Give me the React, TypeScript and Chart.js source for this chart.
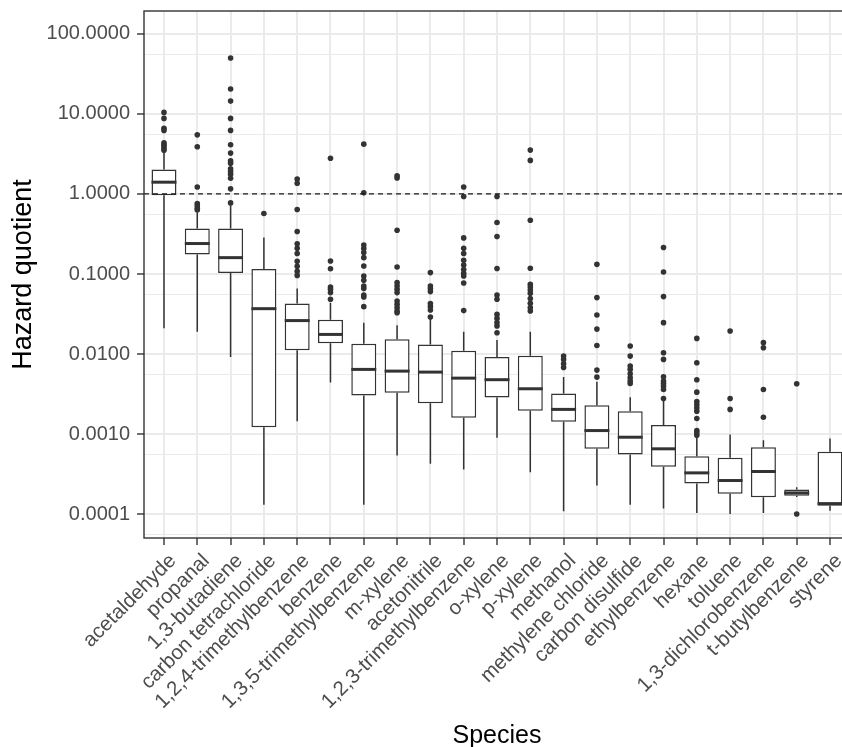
import React, { useEffect, useRef } from 'react';
import { Chart, registerables } from 'chart.js';

Chart.register(...registerables);

// ---------- data ----------
const species = [
  'acetaldehyde', 'propanal', '1,3-butadiene', 'carbon tetrachloride',
  '1,2,4-trimethylbenzene', 'benzene', '1,3,5-trimethylbenzene', 'm-xylene',
  'acetonitrile', '1,2,3-trimethylbenzene', 'o-xylene', 'p-xylene', 'methanol',
  'methylene chloride', 'carbon disulfide', 'ethylbenzene', 'hexane', 'toluene',
  '1,3-dichlorobenzene', 't-butylbenzene', 'styrene',
];

const lowerWhisker = [
  0.021, 0.019, 0.00917, 0.000132, 0.00145, 0.00443, 0.000132, 0.000542,
  0.000427, 0.000362, 0.0009, 0.000335, 0.000109, 0.000229, 0.000132, 0.000118,
  0.000104, 0.000101, 0.000104, 0.000165, 0.000111,
];
const q1 = [
  0.96, 0.175, 0.103, 0.00122, 0.0112, 0.0137, 0.00305, 0.00329,
  0.00244, 0.0016, 0.00288, 0.00196, 0.00143, 0.000657, 0.000557, 0.000391,
  0.000242, 0.000181, 0.000163, 0.000171, 0.000128,
];
const median = [
  1.4, 0.24, 0.16, 0.0369, 0.0262, 0.0176, 0.00644, 0.00613,
  0.00596, 0.00501, 0.00479, 0.00369, 0.00204, 0.00111, 0.000917, 0.000657,
  0.000329, 0.000264, 0.000342, 0.000185, 0.000136,
];
const q3 = [
  2.02, 0.369, 0.369, 0.1155, 0.0427, 0.0269, 0.0135, 0.0153,
  0.0132, 0.011, 0.00917, 0.00955, 0.00323, 0.00229, 0.00194, 0.0013,
  0.000531, 0.000507, 0.000688, 0.000204, 0.000603,
];
const upperWhisker = [
  3.3, 0.585, 0.71, 0.285, 0.0657, 0.0439, 0.0247, 0.0229,
  0.0272, 0.019, 0.015, 0.019, 0.00516, 0.00452, 0.0029, 0.00259,
  0.000928, 0.000991, 0.000841, 0.000218, 0.000884,
];
const outliers: number[][] = [
  [10.4, 8.76, 6.6, 6.2, 4.34, 4.1, 3.95, 3.7, 3.5],
  [5.46, 3.87, 1.22, 0.76, 0.71, 0.66, 0.63],
  [49.7, 20.4, 14.4, 8.76, 6.2, 4.1, 3.23, 2.58, 2.42, 2.05, 1.9, 1.76, 1.57, 1.155, 0.772],
  [0.569],
  [1.53, 1.36, 0.638, 0.339, 0.238, 0.21, 0.18, 0.144, 0.125, 0.108, 0.096],
  [2.79, 0.145, 0.116, 0.0688, 0.0645, 0.0586, 0.0483],
  [4.18, 1.03, 0.23, 0.208, 0.185, 0.16, 0.126, 0.0944, 0.0834, 0.0708, 0.0657, 0.0546, 0.0516, 0.0391],
  [1.68, 1.58, 0.351, 0.122, 0.078, 0.0708, 0.0644, 0.0586, 0.046, 0.0418, 0.038, 0.0345, 0.0329],
  [0.104, 0.0708, 0.0657, 0.0603, 0.0427, 0.0391, 0.0355, 0.029],
  [1.22, 0.928, 0.282, 0.21, 0.18, 0.148, 0.1296, 0.1135, 0.102, 0.0944, 0.0772, 0.0349],
  [0.928, 0.439, 0.293, 0.117, 0.0546, 0.0483, 0.0313, 0.0279, 0.0247, 0.0224, 0.0185],
  [3.52, 2.62, 0.469, 0.118, 0.0743, 0.0688, 0.0631, 0.0574, 0.0493, 0.043, 0.038, 0.0345],
  [0.00944, 0.00859, 0.00759, 0.0068],
  [0.132, 0.0507, 0.0307, 0.0205, 0.0128, 0.00631, 0.00516],
  [0.0126, 0.00944, 0.00708, 0.00644, 0.00569, 0.00507, 0.0046, 0.0043],
  [0.214, 0.106, 0.0522, 0.0247, 0.0104, 0.00859, 0.00522, 0.0046, 0.0043, 0.00398, 0.00362, 0.00279],
  [0.0157, 0.0078, 0.00479, 0.00335, 0.00256, 0.00235, 0.00214, 0.00194, 0.00157, 0.00111, 0.00104, 0.000972],
  [0.0194, 0.00279, 0.00204],
  [0.0139, 0.012, 0.00362, 0.00163],
  [0.00427, 0.000101],
  [],
];

const yMajorTicks = [0.0001, 0.001, 0.01, 0.1, 1, 10, 100];
const yMinorTicks = [0.0000554, 0.000554, 0.00554, 0.0554, 0.554, 5.54, 55.4];
const referenceLine = 1;
const yMin = 0.0000506;
const yMax = 191.9;

// ---------- helpers ----------
const FONT = "'Liberation Sans', Arial, 'DejaVu Sans', sans-serif";
const isMajor = (v: number) => Math.abs(Math.log10(v) - Math.round(Math.log10(v))) < 1e-6;

const boxExtras = {
  id: 'boxExtras',
  beforeDatasetsDraw(chart: any) {
    const { ctx, scales } = chart;
    const x = scales.x, y = scales.y;
    ctx.save();
    ctx.strokeStyle = '#333333';
    ctx.lineWidth = 1.5;
    species.forEach((_, i) => {
      const px = x.getPixelForValue(i);
      ctx.beginPath();
      ctx.moveTo(px, y.getPixelForValue(q3[i]));
      ctx.lineTo(px, y.getPixelForValue(upperWhisker[i]));
      ctx.moveTo(px, y.getPixelForValue(q1[i]));
      ctx.lineTo(px, y.getPixelForValue(lowerWhisker[i]));
      ctx.stroke();
    });
    ctx.restore();
  },
  afterDatasetsDraw(chart: any) {
    const { ctx, scales, chartArea } = chart;
    const x = scales.x, y = scales.y;
    const meta = chart.getDatasetMeta(0);
    ctx.save();
    // medians
    ctx.strokeStyle = '#333333';
    ctx.lineWidth = 3;
    species.forEach((_, i) => {
      const el = meta.data[i];
      const w = el ? el.width : 25;
      const px = x.getPixelForValue(i);
      const py = y.getPixelForValue(median[i]);
      ctx.beginPath();
      ctx.moveTo(px - w / 2, py);
      ctx.lineTo(px + w / 2, py);
      ctx.stroke();
    });
    // reference line
    const ry = y.getPixelForValue(referenceLine);
    ctx.strokeStyle = '#1a1a1a';
    ctx.lineWidth = 1.2;
    ctx.setLineDash([5, 4]);
    ctx.beginPath();
    ctx.moveTo(chartArea.left, ry);
    ctx.lineTo(chartArea.right, ry);
    ctx.stroke();
    ctx.setLineDash([]);
    // panel border
    ctx.strokeStyle = '#333333';
    ctx.lineWidth = 1.4;
    ctx.strokeRect(chartArea.left, chartArea.top, chartArea.right - chartArea.left, chartArea.bottom - chartArea.top);
    ctx.restore();
  },
};

export default function App() {
  const ref = useRef<HTMLCanvasElement>(null);

  useEffect(() => {
    if (!ref.current) return;
    const boxData = species.map((_, i) => ({ x: i, y: [q1[i], q3[i]] }));
    const outlierData = species.flatMap((_, i) => outliers[i].map((v) => ({ x: i, y: v })));

    const chart = new Chart(ref.current, {
      type: 'bar',
      data: {
        datasets: [
          {
            type: 'bar',
            data: boxData as any,
            backgroundColor: '#ffffff',
            borderColor: '#333333',
            borderWidth: 1.5,
            borderSkipped: false,
            barPercentage: 0.75,
            categoryPercentage: 1,
          } as any,
          {
            type: 'scatter',
            data: outlierData as any,
            backgroundColor: '#333333',
            borderWidth: 0,
            pointRadius: 2.8,
            pointHoverRadius: 2.8,
            showLine: false,
          } as any,
        ],
      },
      options: {
        animation: false,
        responsive: false,
        devicePixelRatio: 1,
        layout: { padding: { left: 0, right: 10, top: 11, bottom: 0 } },
        plugins: { legend: { display: false }, tooltip: { enabled: false } },
        scales: {
          x: {
            type: 'linear',
            min: -0.6,
            max: 20.6,
            offset: false,
            afterBuildTicks: (s: any) => {
              s.ticks = species.map((_, i) => ({ value: i }));
            },
            afterFit: (s: any) => {
              s.height = 209;
              s.paddingLeft = 0;
              s.paddingRight = 0;
            },
            ticks: {
              callback: (v: any) => species[v] ?? '',
              autoSkip: false,
              minRotation: 45,
              maxRotation: 45,
              padding: 4,
              labelOffset: 9,
              color: '#4D4D4D',
              font: { family: FONT, size: 20.5 },
            },
            grid: {
              offset: false,
              color: '#EBEBEB',
              lineWidth: 2,
              tickColor: '#333333',
              tickLength: 7,
              tickWidth: 1.4,
              drawTicks: true,
            },
            border: { display: false },
            title: {
              display: true,
              text: 'Species',
              color: '#000000',
              font: { family: FONT, size: 25, lineHeight: 1 },
              padding: { top: 0, bottom: -2 },
            },
          },
          y: {
            type: 'logarithmic',
            min: yMin,
            max: yMax,
            afterBuildTicks: (s: any) => {
              s.ticks = [...yMinorTicks, ...yMajorTicks]
                .sort((a, b) => a - b)
                .map((v) => ({ value: v }));
            },
            afterFit: (s: any) => {
              s.width = 144;
              s.paddingTop = 0;
              s.paddingBottom = 0;
            },
            ticks: {
              callback: (v: any) => (isMajor(Number(v)) ? Number(v).toFixed(4) : ''),
              autoSkip: false,
              padding: 7,
              color: '#4D4D4D',
              font: { family: FONT, size: 20 },
            },
            grid: {
              color: '#EBEBEB',
              lineWidth: (c: any) => (c.tick && isMajor(c.tick.value) ? 2 : 1),
              tickColor: (c: any) => (c.tick && isMajor(c.tick.value) ? '#333333' : 'rgba(0,0,0,0)'),
              tickLength: 7,
              tickWidth: 1.4,
              drawTicks: true,
            },
            border: { display: false },
            title: {
              display: true,
              text: 'Hazard quotient',
              color: '#000000',
              font: { family: FONT, size: 27, lineHeight: 1 },
              padding: { top: 10, bottom: 0 },
            },
          },
        },
      } as any,
      plugins: [boxExtras],
    });
    return () => chart.destroy();
  }, []);

  return (
    <div
      style={{
        position: 'fixed',
        left: 0,
        top: 0,
        width: 842,
        height: 747,
        overflow: 'hidden',
        background: '#ffffff',
      }}
    >
      <canvas ref={ref} width={860} height={747} style={{ display: 'block', width: 860, height: 747 }} />
    </div>
  );
}
